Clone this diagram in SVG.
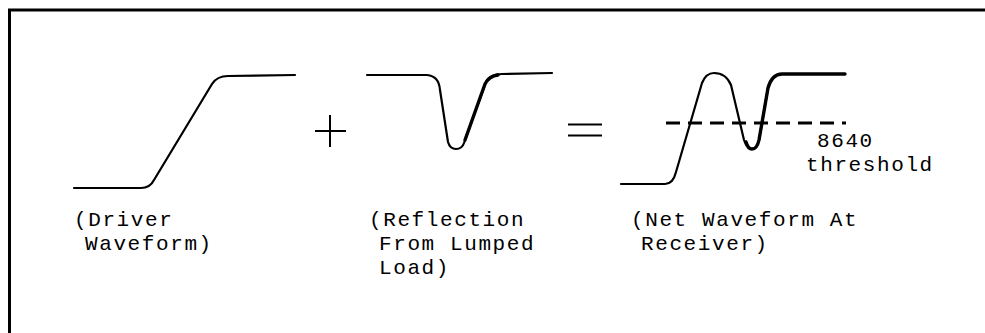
<svg xmlns="http://www.w3.org/2000/svg" width="985" height="333" viewBox="0 0 985 333">
<style>
.bg{fill:#ffffff}
.frame{fill:none;stroke:#000;stroke-width:3}
.wave{fill:none;stroke:#000;stroke-width:2.2;stroke-linecap:round;stroke-linejoin:round}
.bold{fill:none;stroke:#000;stroke-width:3.4;stroke-linecap:round;stroke-linejoin:round}
.op{fill:none;stroke:#000;stroke-width:2}
.dash{fill:none;stroke:#000;stroke-width:3;stroke-dasharray:14 8}
.lbl{font-family:"Liberation Mono","Courier New",monospace;font-size:21px;letter-spacing:1.6px;fill:#000}
</style>
<rect class="bg" x="0" y="0" width="985" height="333"/>
<g id="frame">
<path class="frame" d="M9.5 333 L9.5 10 L985 10"/>
</g>
<g id="driver">
<path class="wave" d="M74 188 L141 188 Q150 188 154 180 L212 84 Q217 76 228 76 L295 75"/>
<text class="lbl" x="74" y="226">(Driver</text>
<text class="lbl" x="85" y="250">Waveform)</text>
</g>
<g id="plus">
<path class="op" d="M330 115 L330 147 M315 131 L346 131"/>
</g>
<g id="reflection">
<path class="wave" d="M367 75 L427 75 Q439 76 440 90 L448 142 Q450 149 456 149 Q462 149 464 143 L486 82 Q490 74 502 74 L552 73"/>
<path class="bold" d="M465 140 L485 84 Q489 76 498 75"/>
<text class="lbl" x="369" y="226">(Reflection</text>
<text class="lbl" x="379" y="250">From Lumped</text>
<text class="lbl" x="379" y="274">Load)</text>
</g>
<g id="equals">
<path class="op" d="M568 124.5 L602 124.5 M568 135.5 L602 135.5"/>
</g>
<g id="net">
<path class="wave" d="M621 184 L665 184 Q673 184 676 172 L702 83 Q706 73 714 73 Q726 73 731 85 L744 140 Q747 149 752 149 Q757 149 759 140 L768 88 Q772 74 782 74 L845 74"/>
<path class="bold" d="M746 142 Q748 149 752 149 Q757 149 759 140 L768 88 Q772 74 782 74 L845 74"/>
<path class="dash" d="M666 123 L846 123"/>
<text class="lbl" x="817" y="147">8640</text>
<text class="lbl" x="806" y="171">threshold</text>
<text class="lbl" x="631" y="226">(Net Waveform At</text>
<text class="lbl" x="641" y="250">Receiver)</text>
</g>
</svg>
